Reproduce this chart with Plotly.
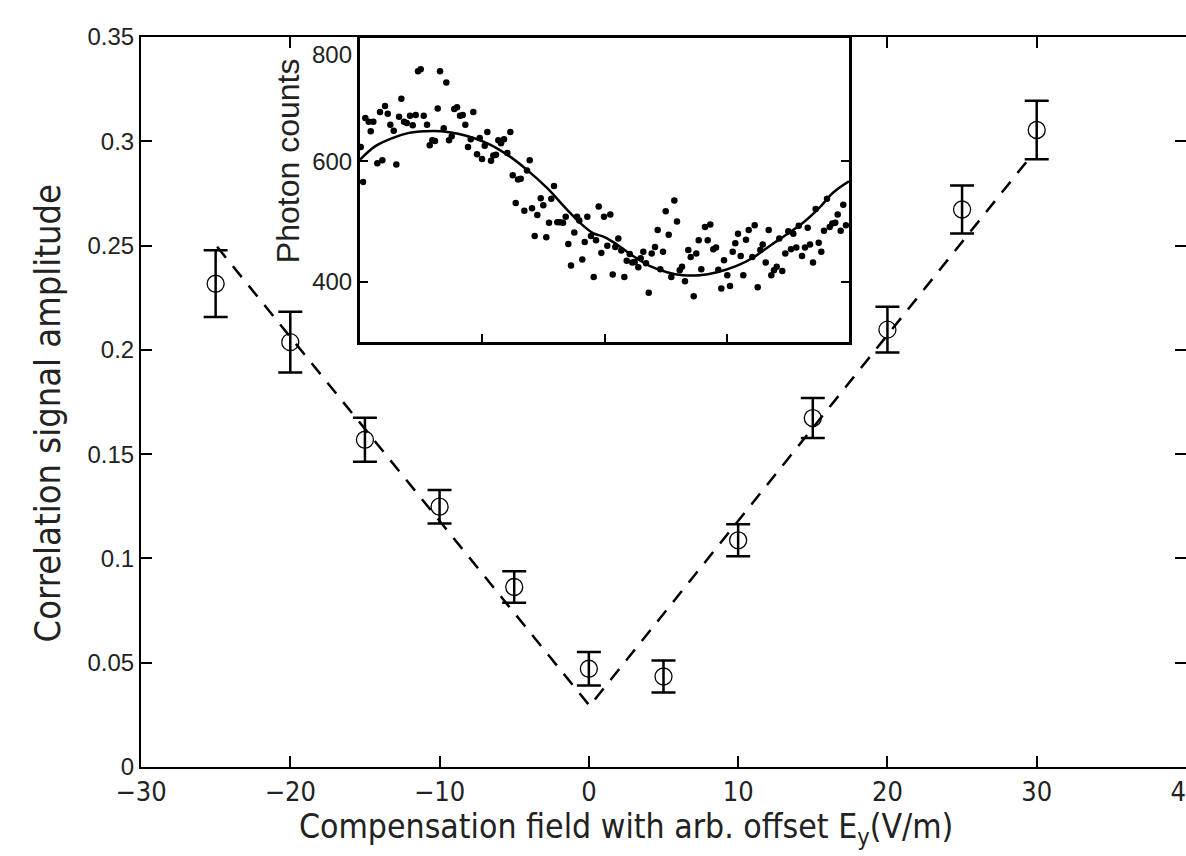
import plotly.graph_objects as go

# ---------------- main data ----------------
field = [-25, -20, -15, -10, -5, 0, 5, 10, 15, 20, 25, 30]
amplitude = [0.2317, 0.2037, 0.1569, 0.1248, 0.0863, 0.0471, 0.0434, 0.1087, 0.1673, 0.2097, 0.2673, 0.3054]
amp_err = [0.016, 0.0146, 0.0105, 0.008, 0.0076, 0.008, 0.0077, 0.0077, 0.0096, 0.011, 0.0115, 0.014]

fit_left_x = [-24.9, 0.0]
fit_left_y = [0.2494, 0.0298]
fit_right_x = [0.4, 29.6]
fit_right_y = [0.0324, 0.2927]

x_ticks = [-30, -20, -10, 0, 10, 20, 30, 40]
y_ticks = [0, 0.05, 0.1, 0.15, 0.2, 0.25, 0.3, 0.35]

# ---------------- inset data ----------------
inset_x = [
    0.7, 3, 5.3, 8.7, 10.7, 13.3, 17.3, 20, 22.3, 25, 27.7, 30.3, 33.7, 36.3, 39, 41.3, 44, 46.7, 50, 52.7,
    55.7, 58, 60.7, 63.7, 67, 69.7, 72.3, 75, 77.7, 80, 83.7, 86.3, 89, 91.7, 94.3, 97, 100, 102.7, 105.3, 108,
    110.7, 113.3, 117, 119.7, 122,
    124.7, 127.3, 131, 133.3, 136, 138.3, 141, 144, 147.3, 150.3, 152.7, 155.7, 158, 160.7, 164.3, 167, 169.7,
    172, 174.7, 177.3, 180.7, 183.3, 186.3, 189, 191.3, 194, 197.3, 200, 203, 205.7, 208.3, 211, 214.3, 217,
    219.3, 222.3, 224.7, 227.3, 231, 233.7, 236, 238.7, 241.3, 244,
    247.3, 250.3, 252.7, 255.3, 258.3, 261.3, 264.3, 266.7, 269.7, 272.3, 274.7, 278.3, 280.7, 283.3, 286,
    288.7, 291.7, 295, 297.7, 300.3, 303, 305.7, 308.7, 311.3, 314.3, 317, 319.7, 322, 325, 328.3, 330.7,
    333.7, 336.3, 338.7, 341.3, 345, 347.7, 350.3, 353.3, 356, 358.3, 361.3, 364,
    367.3, 370, 372.7, 375.3, 378, 380.7, 383.3, 386, 388.7, 392.3, 394.7, 397.7, 400.3, 402.7, 405.7, 408.7,
    411.3, 414, 416.7, 419.3, 422.3, 425.3, 428.3, 431, 433.3, 436.3, 438.7, 442, 445, 447.7, 450, 453, 455.7,
    458.7, 461.3, 464, 467, 469.7, 472.3, 475.3, 477.7, 480.7, 483.3, 486,
]
inset_counts = [
    624, 566, 672, 666, 650, 666, 597, 682, 602, 692, 679, 661, 651, 595, 674, 704, 666, 664, 676, 660,
    677, 750, 753, 676, 661, 627, 635, 634, 688, 750, 655, 731, 635, 642, 687, 690, 676, 677, 661, 624,
    637, 682, 612, 639, 604,
    626, 649, 601, 610, 611, 635, 630, 637, 614, 649, 577, 531, 570, 571, 518, 585, 602,
    522, 476, 511, 539, 527, 474, 498, 538, 559, 499, 499, 498, 508, 463, 427, 482, 508,
    502, 437, 466, 508, 476, 408, 469, 525, 448, 508,
    460, 512, 412, 458, 472, 452, 408, 435, 446, 432, 433, 424, 439, 450, 431,
    382, 447, 458, 486, 421, 450, 517, 478, 408, 535, 500, 419, 425, 401, 453, 441,
    376, 447, 469, 421, 491, 469, 495, 454, 457, 420, 389, 436,
    411, 393, 450, 464, 480, 443, 411, 470, 486, 441, 494, 391, 453, 462, 432, 486,
    411, 419, 425, 472, 418, 447, 484, 454, 480, 457, 493, 443, 457, 490, 462, 432, 521,
    465, 450, 485, 538, 491, 497, 498, 512, 485, 528, 494,
]

curve_x = [0, 15, 31, 48, 65, 81, 98, 115, 130, 150, 167, 187, 207, 220, 233, 245, 257, 273, 290, 307, 323,
           340, 357, 376, 393, 410, 427, 443, 460, 473, 489]
curve_counts = [603, 625, 638, 647, 650, 650, 646, 638, 628, 608, 586, 556, 520, 498, 481, 474, 462, 443, 426,
                416, 411, 411, 416, 426, 440, 460, 479, 498, 524, 548, 567]

inset_xticks = [122, 245, 367]
inset_yticks = [400, 600]
inset_top_label = "800"

NARROW = "Liberation Sans Narrow, DejaVu Sans Condensed, Arial Narrow, sans-serif"
WIDE = "Liberation Sans, Arial, Helvetica, sans-serif"
TXT = "#222"

fig = go.Figure()

# fitted V (dashed)
for fx, fy in ((fit_left_x, fit_left_y), (fit_right_x, fit_right_y)):
    fig.add_trace(go.Scatter(x=fx, y=fy, mode="lines", showlegend=False,
                             line=dict(color="black", width=2.5, dash="14px,11px")))

# data with error bars
fig.add_trace(go.Scatter(
    x=field, y=amplitude, mode="markers", showlegend=False,
    marker=dict(symbol="circle-open", size=17, color="black", line=dict(width=1.3, color="black")),
    error_y=dict(type="data", array=amp_err, visible=True, color="black", thickness=2.5, width=12),
))

# dummy trace for right-hand tick axis
fig.add_trace(go.Scatter(x=[None], y=[None], yaxis="y2", showlegend=False, hoverinfo="skip"))

# inset
fig.add_trace(go.Scatter(x=inset_x, y=inset_counts, mode="markers", xaxis="x3", yaxis="y3",
                         showlegend=False, marker=dict(size=6.5, color="black")))
fig.add_trace(go.Scatter(x=curve_x, y=curve_counts, mode="lines", xaxis="x3", yaxis="y3",
                         showlegend=False, line=dict(color="black", width=2.5, shape="spline")))

fig.update_layout(
    width=1186, height=856,
    margin=dict(l=141, r=0, t=37, b=89, autoexpand=False),
    paper_bgcolor="white", plot_bgcolor="white",
    showlegend=False,
    xaxis=dict(
        range=[-30, 40], tickvals=x_ticks, ticks="inside", ticklen=11, tickwidth=1.5,
        tickcolor="black", showline=True, linecolor="black", linewidth=2, mirror="ticks",
        showgrid=False, zeroline=False, ticklabeloverflow="allow", automargin=False,
        tickfont=dict(family=NARROW, size=27, color=TXT),
    ),
    yaxis=dict(
        range=[0, 0.35], tickvals=y_ticks, ticks="inside", ticklen=11, tickwidth=1.5,
        tickcolor="black", showline=True, linecolor="black", linewidth=2, mirror=False,
        showgrid=False, zeroline=False, automargin=False,
        tickfont=dict(family=WIDE, size=24, color=TXT),
    ),
    yaxis2=dict(
        overlaying="y", side="right", range=[0, 0.35], tickvals=y_ticks, ticks="inside",
        ticklen=11, tickwidth=1.5, tickcolor="black", showticklabels=False, showline=False,
        showgrid=False, zeroline=False, automargin=False,
    ),
    xaxis3=dict(
        domain=[0.2096, 0.6775], anchor="y3", range=[0, 489], tickvals=inset_xticks,
        ticks="inside", ticklen=8, tickwidth=1.5, tickcolor="black", showticklabels=False,
        showline=True, linecolor="black", linewidth=3, mirror=True,
        showgrid=False, zeroline=False, automargin=False,
    ),
    yaxis3=dict(
        domain=[0.5822, 0.9986], anchor="x3", range=[300, 805], tickvals=inset_yticks,
        ticks="inside", ticklen=8, tickwidth=1.5, tickcolor="black",
        showline=True, linecolor="black", linewidth=3, mirror="ticks",
        showgrid=False, zeroline=False, automargin=False,
        tickfont=dict(family=WIDE, size=24, color=TXT),
    ),
)

# axis titles placed as annotations (positions follow the reference)
fig.add_annotation(xref="paper", yref="paper", x=0.464, y=0, yanchor="top", yshift=-38,
                   text="Compensation field with arb. offset E<sub>y</sub>(V/m)", showarrow=False,
                   font=dict(family=NARROW, size=33.5, color=TXT))
fig.add_annotation(xref="paper", yref="paper", x=-0.111, y=0.485, textangle=-90,
                   text="Correlation signal amplitude", showarrow=False,
                   font=dict(family=NARROW, size=36, color=TXT))
fig.add_annotation(xref="x3 domain", yref="y3 domain", x=0, y=0.595, xshift=-92, textangle=-90,
                   text="Photon counts", showarrow=False,
                   font=dict(family=WIDE, size=32, color=TXT))
# top inset tick label
fig.add_annotation(xref="x3 domain", yref="y3", x=0, y=778, xanchor="right", xshift=-6,
                   text=inset_top_label, showarrow=False, font=dict(family=WIDE, size=24, color=TXT))

fig.write_html("out.html")
